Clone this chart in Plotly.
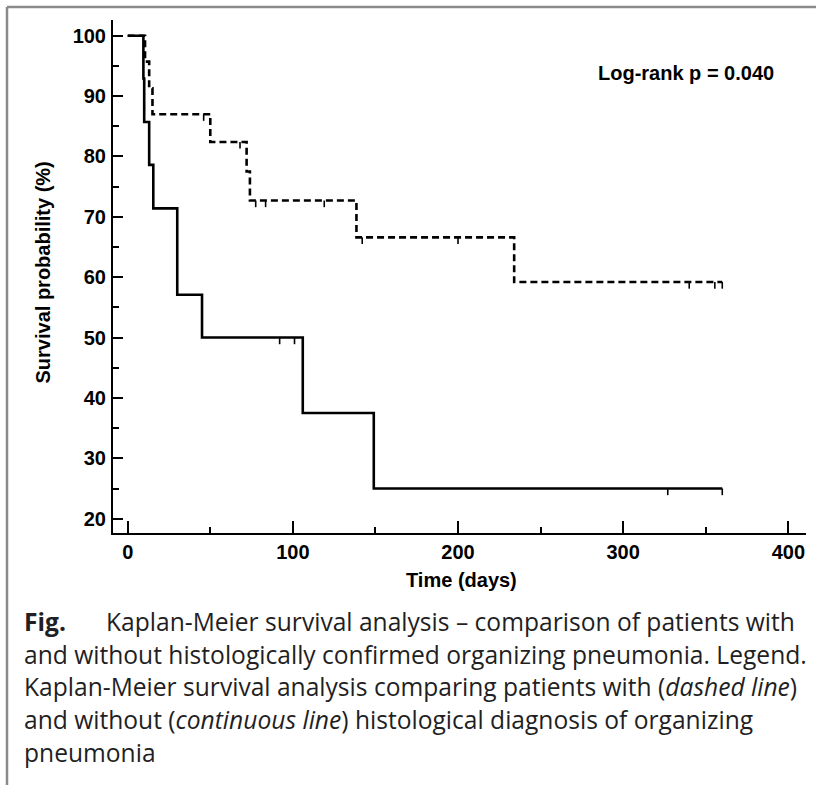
import plotly.graph_objects as go

# ---- data ----
# Without histological OP (continuous line)
t_noop = [0, 9.5, 10, 13, 15.5, 30, 45, 106, 149, 360]
s_noop = [100, 92.9, 85.7, 78.6, 71.4, 57.1, 50.0, 37.5, 25.0, 25.0]
cens_t_noop = [92, 101, 327, 360]
cens_s_noop = [50.0, 50.0, 25.0, 25.0]

# With histological OP (dashed line)
t_op = [0, 10.5, 13, 15, 50, 72, 74, 138.5, 234, 360]
s_op = [100, 95.7, 91.3, 87.0, 82.4, 77.5, 72.7, 66.6, 59.2, 59.2]
cens_t_op = [46, 68, 77.5, 83.5, 119, 142, 200, 340, 355.5, 360]
cens_s_op = [87.0, 82.4, 72.7, 72.7, 72.7, 66.6, 66.6, 59.2, 59.2, 59.2]

x_ticks = [0, 100, 200, 300, 400]
y_ticks = [20, 30, 40, 50, 60, 70, 80, 90, 100]
p_text = "Log-rank p = 0.040"

caption_lines = [
    "and without histologically confirmed organizing pneumonia. Legend.",
    "Kaplan-Meier survival analysis comparing patients with (<i>dashed line</i>)",
    "and without (<i>continuous line</i>) histological diagnosis of organizing",
    "pneumonia",
]

CENS_LEN = 1.1  # censor mark length in % units (downward)


def censor_segments(ts, ss):
    xs, ys = [], []
    for t, s in zip(ts, ss):
        xs += [t, t, None]
        ys += [s, s - CENS_LEN, None]
    return xs, ys


fig = go.Figure()
fig.add_trace(go.Scatter(x=t_noop, y=s_noop, mode="lines", line_shape="hv",
                         line=dict(color="black", width=2.6), showlegend=False))
fig.add_trace(go.Scatter(x=t_op, y=s_op, mode="lines", line_shape="hv",
                         line=dict(color="black", width=2.6, dash="7px,4px"), showlegend=False))
cx, cy = censor_segments(cens_t_noop, cens_s_noop)
fig.add_trace(go.Scatter(x=cx, y=cy, mode="lines", line=dict(color="black", width=1.6),
                         showlegend=False))
cx, cy = censor_segments(cens_t_op, cens_s_op)
fig.add_trace(go.Scatter(x=cx, y=cy, mode="lines", line=dict(color="black", width=1.6),
                         showlegend=False))

L, R, T, B = 113, 10, 20, 252
W, H = 816 - L - R, 785 - T - B


def px_x(p):
    return (p - L) / W


def px_y(p):
    return (785 - B - p) / H


tickfont = dict(family="Liberation Sans, Arial, sans-serif", size=20, color="black", weight="bold")

fig.update_layout(
    width=816, height=785,
    margin=dict(l=L, r=R, t=T, b=B),
    paper_bgcolor="white", plot_bgcolor="white",
    xaxis=dict(range=[-8.9, 410.7], showline=True, linecolor="black", linewidth=2,
               ticks="inside", ticklen=12, tickwidth=2, tickcolor="black",
               tickvals=x_ticks, tickfont=tickfont, ticklabelstandoff=0,
               minor=dict(ticks="inside", ticklen=6, tickwidth=1.5, tickcolor="black",
                          tick0=0, dtick=50),
               showgrid=False, zeroline=False),
    yaxis=dict(range=[17.63, 102.6], showline=True, linecolor="black", linewidth=2,
               ticks="inside", ticklen=10, tickwidth=2, tickcolor="black",
               tickvals=y_ticks, tickfont=tickfont, ticklabelstandoff=1,
               minor=dict(ticks="inside", ticklen=6, tickwidth=1.5, tickcolor="black",
                          tick0=0, dtick=5),
               showgrid=False, zeroline=False),
)

# chart texts
fig.add_annotation(x=338, y=93.8, xref="x", yref="y", text=p_text, showarrow=False,
                   font=tickfont, xanchor="center", yanchor="middle")
fig.add_annotation(x=px_x(461.5), y=px_y(580), xref="paper", yref="paper",
                   text="Time (days)", showarrow=False, font=tickfont,
                   xanchor="center", yanchor="middle")
fig.add_annotation(x=px_x(42.5), y=px_y(273), xref="paper", yref="paper",
                   text="Survival probability (%)", showarrow=False, font=tickfont,
                   textangle=-90, xanchor="center", yanchor="middle")

# caption
capfont = dict(family="Open Sans, sans-serif", size=24.6, color="#1f1f24")
fig.add_annotation(x=px_x(22), y=px_y(621), xref="paper", yref="paper",
                   text="<b>Fig.</b>", showarrow=False, font=capfont,
                   xanchor="left", yanchor="middle")
fig.add_annotation(x=px_x(104), y=px_y(621), xref="paper", yref="paper",
                   text="Kaplan-Meier survival analysis – comparison of patients with",
                   showarrow=False, font=capfont, xanchor="left", yanchor="middle")
for i, line in enumerate(caption_lines):
    fig.add_annotation(x=px_x(22), y=px_y(654 + 32.7 * i), xref="paper", yref="paper",
                       text=line, showarrow=False, font=capfont,
                       xanchor="left", yanchor="middle")

# gray frame (top and left edges)
fig.add_shape(type="line", xref="paper", yref="paper", x0=px_x(7), x1=px_x(816),
              y0=px_y(7), y1=px_y(7), line=dict(color="#8a8a8a", width=2.5))
fig.add_shape(type="line", xref="paper", yref="paper", x0=px_x(7), x1=px_x(7),
              y0=px_y(7), y1=px_y(785), line=dict(color="#8a8a8a", width=2.5))

fig.write_html("out.html")
